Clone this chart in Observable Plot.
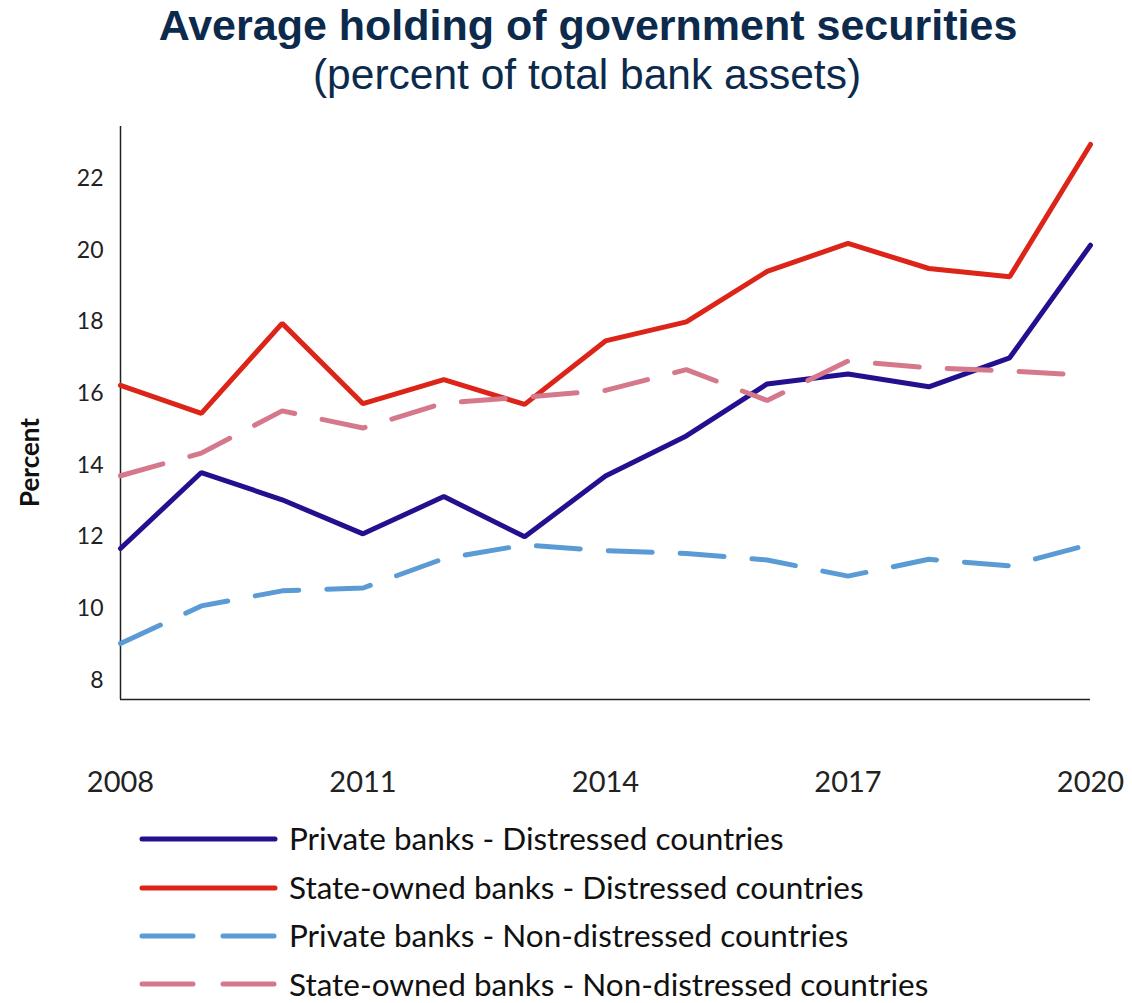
<!DOCTYPE html>
<html>
<head>
<meta charset="utf-8">
<script src="https://cdn.jsdelivr.net/npm/d3@7"></script>
<script src="https://cdn.jsdelivr.net/npm/@observablehq/plot@0.6"></script>
<style>
  html, body { margin: 0; padding: 0; background: #fff; }
  #wrap { width: 1132px; height: 1003px; overflow: hidden; }
  .title { font-family: "Liberation Sans", Arial, sans-serif; font-weight: bold; font-size: 43px; color: #0c2a4c; text-align: center; width: 1132px; height: 50px; line-height: 50px; position: relative; left: 22px; }
  .subtitle { font-family: "Liberation Sans", Arial, sans-serif; font-size: 42.5px; color: #0c2a4c; text-align: center; width: 1132px; height: 60px; line-height: 50px; position: relative; left: 21px; }
  #chart { height: 700px; }
  #chart svg { display: block; }
  #legend { margin-left: 139px; margin-top: 5px; font-family: Lato, sans-serif; font-size: 31.5px; color: #111; }
  .item { display: flex; align-items: center; height: 48.4px; }
  .item span { line-height: 1; }
  .item svg { margin-right: 11px; }
</style>
</head>
<body>
<div id="wrap">
  <div class="title">Average holding of government securities</div>
  <div class="subtitle">(percent of total bank assets)</div>
  <div id="chart"></div>
  <div id="legend"></div>
</div>
<script>
const years = [2008, 2009, 2010, 2011, 2012, 2013, 2014, 2015, 2016, 2017, 2018, 2019, 2020];
const privateDistressed = [11.68, 13.80, 13.04, 12.09, 13.13, 12.01, 13.70, 14.82, 16.27, 16.55, 16.19, 17.00, 20.14];
const stateDistressed = [16.23, 15.45, 17.96, 15.72, 16.39, 15.70, 17.47, 18.00, 19.41, 20.19, 19.49, 19.26, 22.95];
const privateNonDistressed = [9.03, 10.08, 10.50, 10.58, 11.40, 11.78, 11.62, 11.54, 11.36, 10.91, 11.38, 11.20, 11.80];
const stateNonDistressed = [13.71, 14.34, 15.52, 15.04, 15.74, 15.90, 16.09, 16.67, 15.81, 16.91, 16.72, 16.63, 16.51];
const seriesNames = [
  "Private banks - Distressed countries",
  "State-owned banks - Distressed countries",
  "Private banks - Non-distressed countries",
  "State-owned banks - Non-distressed countries"
];
const seriesValues = [privateDistressed, stateDistressed, privateNonDistressed, stateNonDistressed];
const seriesColors = ["#22108e", "#dc2418", "#5b9bd5", "#d6788c"];
const seriesDash = [null, null, "44,28", "44,28"];
const xTicks = [2008, 2011, 2014, 2017, 2020];
const yTicks = [8, 10, 12, 14, 16, 18, 20, 22];

try {
  const rows = [];
  seriesNames.forEach((name, i) => {
    years.forEach((yr, j) => rows.push({series: name, year: yr, value: seriesValues[i][j]}));
  });

  const lineMarks = seriesNames.map((name, i) => {
    const opts = {x: "year", y: "value", stroke: seriesColors[i], strokeWidth: 5, strokeLinejoin: "miter"};
    if (seriesDash[i]) { opts.strokeDasharray = seriesDash[i]; opts.strokeLinecap = "round"; }
    return Plot.line(rows.filter(r => r.series === name), opts);
  });

  const plot = Plot.plot({
    width: 1132,
    height: 700,
    marginTop: 16,
    marginLeft: 120,
    marginRight: 42,
    marginBottom: 111,
    style: {fontFamily: "Lato, sans-serif", color: "#222", background: "#fff"},
    x: {domain: [2008, 2020]},
    y: {domain: [7.47, 23.45]},
    marks: [
      Plot.axisY({ticks: yTicks, tickSize: 0, tickPadding: 17, fontSize: 23, label: null}),
      Plot.axisX({ticks: xTicks, tickSize: 0, tickPadding: 72, fontSize: 29, tickFormat: d => String(d), label: null}),
      Plot.ruleX([2008], {stroke: "#222", strokeWidth: 1.5}),
      Plot.ruleY([7.47], {stroke: "#222", strokeWidth: 1.5}),
      ...lineMarks,
      Plot.text(["Percent"], {frameAnchor: "left", y: () => 14.08, dx: -90, rotate: -90, textAnchor: "middle", fontSize: 26, fontWeight: "bold", fill: "#111"})
    ]
  });
  document.getElementById("chart").appendChild(plot);
} catch (e) {
  document.getElementById("chart").textContent = "ERROR: " + e.message;
}

const legend = document.getElementById("legend");
seriesNames.forEach((name, i) => {
  const item = document.createElement("div");
  item.className = "item";
  const dash = seriesDash[i] ? `stroke-dasharray="51,30"` : "";
  item.innerHTML = `<svg width="139" height="10"><line x1="3" y1="5" x2="136" y2="5" stroke="${seriesColors[i]}" stroke-width="5" stroke-linecap="round" ${dash}/></svg><span>${name}</span>`;
  legend.appendChild(item);
});
</script>
</body>
</html>
